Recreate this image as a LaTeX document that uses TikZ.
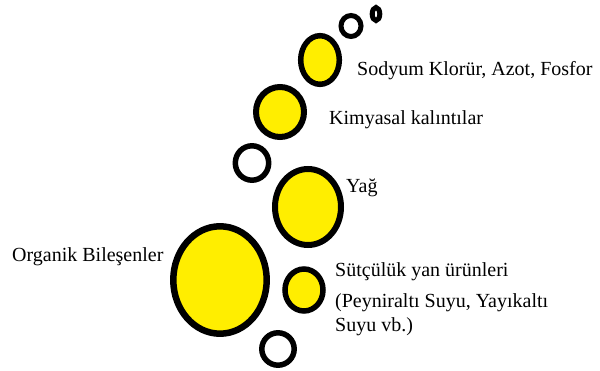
\documentclass[tikz,border=0pt]{standalone}
\usepackage{fontspec}
\setmainfont{Liberation Serif}
\definecolor{bubbleyellow}{RGB}{255,238,0}
\tikzset{
  bubble/.style={draw=black, fill=bubbleyellow, line width=6pt},
  hollow/.style={draw=black, fill=white, line width=5pt},
  lbl/.style={anchor=base west, inner sep=0pt, font=\fontsize{20}{23}\selectfont}
}
\begin{document}
\begin{tikzpicture}[x=1pt, y=-1pt]
  \useasboundingbox[fill=white] (0,0) rectangle (600,371);

  % rising bubbles, top to bottom
  \draw[hollow, line width=5pt] (376,14) ellipse (3.8 and 6.5);
  \draw[hollow] (351,26) ellipse (10 and 10.5);
  \draw[bubble, line width=5.5pt] (320,60) ellipse (19.3 and 24.3);
  \draw[bubble] (280,112) ellipse (24 and 25);
  \draw[hollow, line width=5.5pt] (252,163) ellipse (16.7 and 17.2);
  \draw[bubble] (308,207) ellipse (33 and 38);
  \draw[bubble, line width=6.5pt] (220,280) ellipse (46.7 and 53.7);
  \draw[bubble, line width=5.5pt] (304,290) ellipse (19 and 21);
  \draw[hollow, line width=5.5pt] (278,349) ellipse (16.2 and 16.2);

  % labels
  \node[lbl] (sodyum) at (357,76) {Sodyum Klorür, Azot, Fosfor};
  \node[lbl] (kimyasal) at (329,125) {Kimyasal kalıntılar};
  \node[lbl] (yag) at (346,193) {Yağ};
  \node[lbl] (organik) at (12,262) {Organik Bileşenler};
  \node[lbl] (sut1) at (335,277) {Sütçülük yan ürünleri};
  \node[lbl] (sut2) at (335,308) {(Peyniraltı Suyu, Yayıkaltı};
  \node[lbl] (sut3) at (335,332) {Suyu vb.)};
\end{tikzpicture}
\end{document}
